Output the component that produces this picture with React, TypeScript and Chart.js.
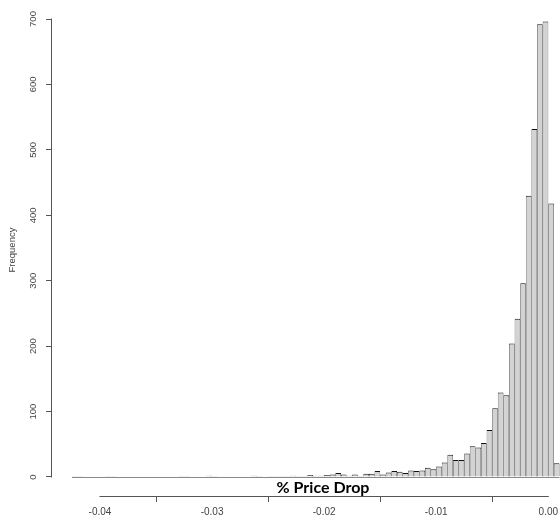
import React, { useEffect, useRef } from 'react';
import { Chart, registerables } from 'chart.js';

Chart.register(...registerables);

// Histogram breaks: first break and bin width
const BREAK_START = -0.0425;
const BIN_WIDTH = 0.0005;

// Counts per bin, from -0.0425 up to 0.001
const COUNTS = [
  1, 1, 0, 0, 0, 0, 1, 1, 0, 0,
  0, 0, 0, 0, 0, 0, 0, 0, 0, 1,
  1, 0, 0, 0, 2, 1, 0, 0, 0, 0,
  0, 0, 2, 1, 0, 1, 1, 1, 1, 2,
  1, 1, 3, 2, 2, 3, 4, 6, 4, 2,
  4, 1, 5, 5, 9, 4, 7, 9, 8, 6,
  10, 9, 10, 14, 12, 16, 22, 34, 26, 26,
  36, 47, 45, 52, 72, 105, 129, 125, 204, 242,
  296, 430, 532, 692, 696, 418, 21,
];

const X_TICKS = [-0.04, -0.03, -0.02, -0.01, 0];
const Y_TICKS = [0, 100, 200, 300, 400, 500, 600, 700];
const X_TITLE = '% Price Drop';
const Y_TITLE = 'Frequency';

const X_MIN = -0.044283;
const X_MAX = 0.001044;
const Y_MIN = -29.04;
const Y_MAX = 722.93;

export default function App() {
  const canvasRef = useRef<HTMLCanvasElement | null>(null);

  useEffect(() => {
    const canvas = canvasRef.current;
    if (!canvas) return;

    const points = COUNTS.map((c, i) => ({ x: BREAK_START + BIN_WIDTH * (i + 0.5), y: c }));

    const rAxes = {
      id: 'rAxes',
      beforeDatasetsDraw(chart: any) {
        const { ctx, scales } = chart;
        const x = scales.x;
        const y = scales.y;
        const y0 = Math.round(y.getPixelForValue(0)) + 0.5;
        ctx.save();
        ctx.strokeStyle = '#8a8a8a';
        ctx.lineWidth = 1;
        ctx.beginPath();
        ctx.moveTo(x.getPixelForValue(BREAK_START), y0);
        ctx.lineTo(x.getPixelForValue(BREAK_START + BIN_WIDTH * COUNTS.length), y0);
        ctx.stroke();
        ctx.restore();
      },
      afterDraw(chart: any) {
        const { ctx, chartArea, scales } = chart;
        const x = scales.x;
        const y = scales.y;
        ctx.save();
        ctx.strokeStyle = '#555';
        ctx.lineWidth = 1;
        // y axis line (from first to last tick)
        const ax = Math.round(chartArea.left) - 0.5;
        ctx.beginPath();
        ctx.moveTo(ax, y.getPixelForValue(Y_TICKS[0]) + 0.5);
        ctx.lineTo(ax, y.getPixelForValue(Y_TICKS[Y_TICKS.length - 1]) - 0.5);
        ctx.stroke();
        // x axis line
        const ay = Math.round(chartArea.bottom) + 0.5;
        ctx.beginPath();
        ctx.moveTo(x.getPixelForValue(X_TICKS[0]) - 0.5, ay);
        ctx.lineTo(x.getPixelForValue(X_TICKS[X_TICKS.length - 1]) + 0.5, ay);
        ctx.stroke();
        // overlay title
        ctx.fillStyle = '#000';
        ctx.font = 'bold 16px Lato';
        ctx.textAlign = 'center';
        ctx.textBaseline = 'alphabetic';
        ctx.fillText(X_TITLE, 323, 493);
        ctx.restore();
      },
    };

    const chart = new Chart(canvas, {
      type: 'bar',
      data: {
        datasets: [
          {
            data: points as any,
            backgroundColor: '#d3d3d3',
            borderColor: '#111',
            borderWidth: { top: 1, left: 0.6, right: 0.6, bottom: 0 } as any,
            borderSkipped: false,
            inflateAmount: 0,
            barPercentage: 1,
            categoryPercentage: 1,
          },
        ],
      },
      options: {
        animation: false,
        responsive: false,
        devicePixelRatio: 1,
        layout: { padding: { top: 4, left: 0, right: 0, bottom: 0 } },
        plugins: {
          legend: { display: false },
          tooltip: { enabled: false },
          title: { display: false },
        },
        scales: {
          x: {
            type: 'linear',
            min: X_MIN,
            max: X_MAX,
            offset: false,
            afterBuildTicks: (scale: any) => {
              scale.ticks = X_TICKS.map((v) => ({ value: v }));
            },
            afterFit: (scale: any) => {
              scale.height = 23;
              scale.paddingLeft = 0;
              scale.paddingRight = 0;
            },
            grid: {
              display: true,
              drawOnChartArea: false,
              drawTicks: true,
              tickLength: 6,
              color: '#555',
            },
            border: { display: false },
            ticks: {
              padding: 4,
              maxRotation: 0,
              minRotation: 0,
              autoSkip: false,
              color: '#444',
              font: { family: 'Liberation Sans', size: 10 },
              callback: (v: any) => Number(v).toFixed(2),
            },
          },
          y: {
            type: 'linear',
            min: Y_MIN,
            max: Y_MAX,
            afterBuildTicks: (scale: any) => {
              scale.ticks = Y_TICKS.map((v) => ({ value: v }));
            },
            afterFit: (scale: any) => {
              scale.width = 52;
              scale.paddingTop = 0;
              scale.paddingBottom = 0;
            },
            grid: {
              display: true,
              drawOnChartArea: false,
              drawTicks: true,
              tickLength: 6,
              color: '#555',
            },
            border: { display: false },
            title: {
              display: true,
              text: Y_TITLE,
              color: '#444',
              font: { family: 'Liberation Sans', size: 9.5 },
              padding: { top: 7, bottom: 0 },
            },
            ticks: {
              padding: 5,
              minRotation: 90,
              maxRotation: 90,
              crossAlign: 'center',
              autoSkip: false,
              color: '#444',
              font: { family: 'Liberation Sans', size: 9.5 },
              callback: (v: any) => String(v),
            },
          },
        },
      },
      plugins: [rAxes],
    });

    return () => chart.destroy();
  }, []);

  return (
    <div style={{ position: 'absolute', left: 0, top: 0, width: 560, height: 519, overflow: 'hidden', background: '#fff' }}>
      <canvas ref={canvasRef} width={560} height={519} style={{ display: 'block' }} />
    </div>
  );
}
